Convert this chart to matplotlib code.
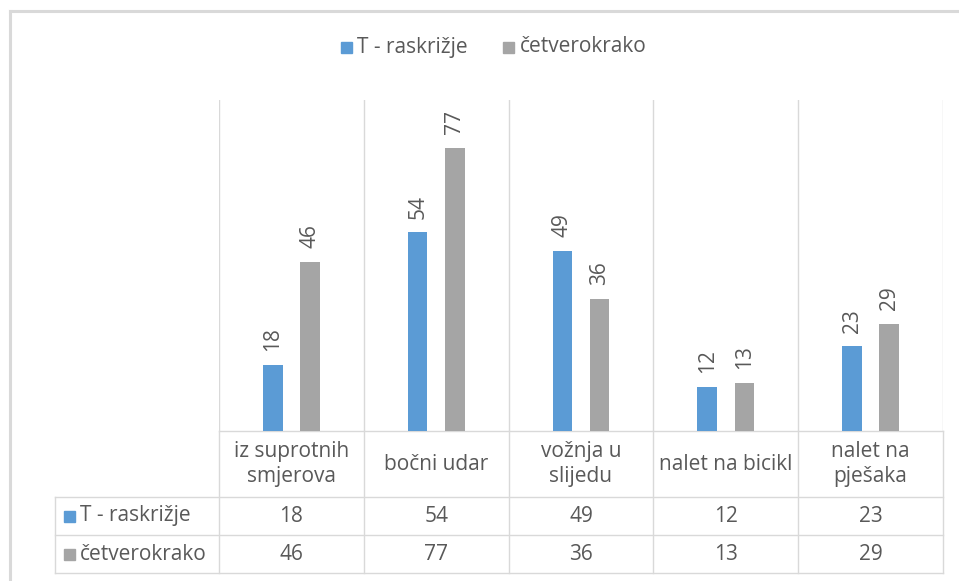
import numpy as np
import matplotlib.pyplot as plt

plt.rcParams['font.family'] = ['Open Sans', 'DejaVu Sans']

# podaci
kategorije = ['iz suprotnih\nsmjerova', 'bočni udar', 'vožnja u\nslijedu',
              'nalet na bicikl', 'nalet na\npješaka']
serije = ['T - raskrižje', 'četverokrako']
t_raskrizje = [18, 54, 49, 12, 23]
cetverokrako = [46, 77, 36, 13, 29]
boje = ['#5b9bd5', '#a5a5a5']

TXT = '#595959'
GRID = '#d9d9d9'
FS = 15

W, H = 959, 581
fig = plt.figure(figsize=(W / 100, H / 100), dpi=100)

# pixel layout
x0, x1 = 219, 943          # plot area left/right
ytop, ybot = 100, 431      # plot area top/bottom
tab_left = 55
row_y = [431, 497, 535, 573]

# background layer in pixel coords (frame + table)
bg = fig.add_axes([0, 0, 1, 1])
bg.set_xlim(0, W)
bg.set_ylim(H, 0)
bg.axis('off')

# outer chart frame (cropped)
bg.plot([10, W], [11, 11], color='#d9d9d9', lw=2.2)
bg.plot([10, 10], [11, H], color='#d9d9d9', lw=2.2)

# bars
ax = fig.add_axes([x0 / W, 1 - ybot / H, (x1 - x0) / W, (ybot - ytop) / H])
n = len(kategorije)
x = np.arange(n)
off, bw = 0.128, 0.135
for vals, boja, d in [(t_raskrizje, boje[0], -off), (cetverokrako, boje[1], off)]:
    ax.bar(x + d, vals, width=bw, color=boja, zorder=3)
    for xi, v in zip(x + d, vals):
        ax.annotate(str(v), (xi, v), xytext=(0, 10), textcoords='offset points',
                    rotation=90, ha='center', va='bottom', color=TXT, fontsize=FS)
ax.set_xlim(-0.5, n - 0.5)
ax.set_ylim(0, 90)
for b in np.arange(n + 1) - 0.5:
    ax.axvline(b, color=GRID, lw=1, zorder=1)
ax.axis('off')

# data table
cw = (x1 - x0) / n
bounds = [x0 + i * cw for i in range(n + 1)]
bg.plot([x0, x1], [row_y[0]] * 2, color=GRID, lw=1)
for y in row_y[1:]:
    bg.plot([tab_left, x1], [y, y], color=GRID, lw=1)
for bx in bounds:
    bg.plot([bx, bx], [row_y[0], row_y[-1]], color=GRID, lw=1)
bg.plot([tab_left, tab_left], [row_y[1], row_y[-1]], color=GRID, lw=1)

for i, kat in enumerate(kategorije):
    cx = (bounds[i] + bounds[i + 1]) / 2
    bg.text(cx, (row_y[0] + row_y[1]) / 2, kat, ha='center', va='center',
            color=TXT, fontsize=FS, linespacing=1.3)
    for r, vals in enumerate([t_raskrizje, cetverokrako]):
        bg.text(cx, (row_y[r + 1] + row_y[r + 2]) / 2, str(vals[i]),
                ha='center', va='center', color=TXT, fontsize=FS)

for r, (ser, boja) in enumerate(zip(serije, boje)):
    cy = (row_y[r + 1] + row_y[r + 2]) / 2
    bg.add_patch(plt.Rectangle((64, cy - 5.5), 11, 11, color=boja))
    bg.text(80, cy, ser, ha='left', va='center', color=TXT, fontsize=FS)

# legend on top
leg_y = 47
for sx, tx, ser, boja in [(341, 357, serije[0], boje[0]), (503, 520, serije[1], boje[1])]:
    bg.add_patch(plt.Rectangle((sx, leg_y - 5.5), 11, 11, color=boja))
    bg.text(tx, leg_y, ser, ha='left', va='center', color=TXT, fontsize=FS)

fig.savefig('out.png', dpi=100)
